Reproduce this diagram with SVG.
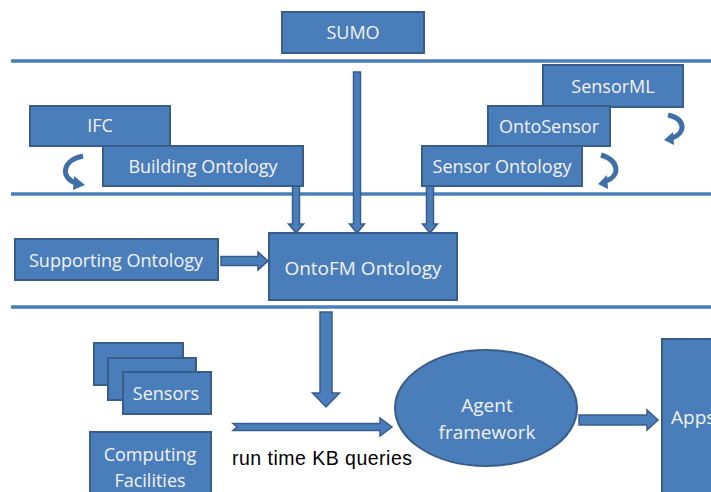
<svg xmlns="http://www.w3.org/2000/svg" width="711" height="492" viewBox="0 0 711 492">
<style>
.box{fill:#4a7ebb;stroke:#385d8a;stroke-width:2}
.arr{fill:#4a7ebb;stroke:#385d8a;stroke-width:1.5}
.sep{stroke:#4a7ebb;stroke-width:3.5}
.t{font-family:"Open Sans","Noto Sans",sans-serif;font-size:18px;fill:#f2f2f2;text-anchor:middle}
.curve{fill:none;stroke:#3e6fa6;stroke-width:5}
.head{fill:#3e6fa6}
</style>
<rect width="711" height="492" fill="#ffffff"/>
<g id="separators">
<line class="sep" x1="11" y1="61" x2="711" y2="61"/>
<line class="sep" x1="11" y1="194" x2="711" y2="194"/>
<line class="sep" x1="11" y1="307" x2="711" y2="307"/>
</g>
<g id="connectors">
<polygon class="arr" points="353.5,72 360.5,72 360.5,224 364.5,224 357,233 349.5,224 353.5,224"/>
<polygon class="arr" points="292.5,186 299.5,186 299.5,224 303.5,224 296,233 288.5,224 292.5,224"/>
<polygon class="arr" points="426.5,186 433.5,186 433.5,224 437.5,224 430,233 422.5,224 426.5,224"/>
<polygon class="arr" points="221,256.5 258,256.5 258,252 268,261 258,270 258,265.5 221,265.5"/>
<polygon class="arr" points="320,312 332,312 332,393 339.5,393 326,407 312.5,393 320,393"/>
<polygon class="arr" points="233,423.5 380,423.5 380,418 392,427 380,436 380,430.5 233,430.5 237,427"/>
<polygon class="arr" points="579,415 647,415 647,410 658,420 647,430 647,425 579,425"/>
<path class="curve" d="M83,156 C62,160 60,178 76,183"/>
<polygon class="head" points="74,176 85,185 73,190"/>
<path class="curve" d="M668,115 C686,119 686,133 672,138"/>
<polygon class="head" points="673,132 664,140 674,145"/>
<path class="curve" d="M601,155 C620,161 620,176 606,181"/>
<polygon class="head" points="607,175 598,184 608,189"/>
</g>
<g id="sumo"><rect class="box" x="282" y="12" width="142" height="41"/><text class="t" x="353" y="39">SUMO</text></g>
<g id="ifc"><rect class="box" x="30" y="106" width="140" height="40"/><text class="t" x="100" y="132">IFC</text></g>
<g id="building"><rect class="box" x="103" y="146" width="200" height="40"/><text class="t" x="203" y="173">Building Ontology</text></g>
<g id="sensorml"><rect class="box" x="543" y="65" width="140" height="42"/><text class="t" x="613" y="93">SensorML</text></g>
<g id="ontosensor"><rect class="box" x="488" y="106" width="122" height="40"/><text class="t" x="549" y="133">OntoSensor</text></g>
<g id="sensorontology"><rect class="box" x="422" y="146" width="160" height="40"/><text class="t" x="502" y="173">Sensor Ontology</text></g>
<g id="supporting"><rect class="box" x="15" y="239" width="203" height="41"/><text class="t" x="116" y="267">Supporting Ontology</text></g>
<g id="ontofm"><rect class="box" x="269" y="233" width="188" height="67"/><text class="t" x="363" y="275" style="font-size:19px">OntoFM Ontology</text></g>
<g id="sensors">
<rect class="box" x="94" y="343" width="89" height="42"/>
<rect class="box" x="108" y="358" width="88" height="42"/>
<rect class="box" x="123" y="372" width="88" height="42"/>
<text class="t" x="166" y="400">Sensors</text>
</g>
<g id="computing"><rect class="box" x="90" y="432" width="121" height="70"/><text class="t" x="150" y="461">Computing</text><text class="t" x="150" y="487">Facilities</text></g>
<g id="agent"><ellipse class="box" cx="486" cy="408" rx="91" ry="58"/><text class="t" x="487" y="412" style="font-size:19px">Agent</text><text class="t" x="487" y="439" style="font-size:19px">framework</text></g>
<g id="apps"><rect class="box" x="662" y="339" width="60" height="160"/><text class="t" x="671" y="424" style="text-anchor:start;font-size:19px">Apps</text></g>
<text x="232" y="465" style="font-family:'Liberation Sans',Arial,sans-serif;font-size:19.5px;fill:#000" textLength="180">run time KB queries</text>
</svg>
